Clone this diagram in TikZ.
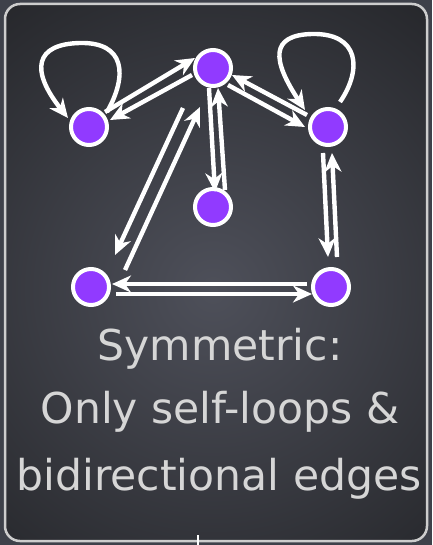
\documentclass[tikz,border=0pt]{standalone}
\usepackage{fontspec}
\setmainfont{DejaVu Sans}
\usetikzlibrary{arrows.meta,calc}
\definecolor{bgout}{RGB}{62,65,74}
\definecolor{panelin}{RGB}{78,80,90}
\definecolor{panelout}{RGB}{30,31,34}
\definecolor{nodepurple}{RGB}{145,58,255}
\definecolor{txt}{RGB}{214,214,214}
\definecolor{rim}{RGB}{205,205,205}
\begin{document}
\begin{tikzpicture}[x=1pt,y=-1pt,
  vert/.style={circle, draw=white, line width=4pt, fill=nodepurple, minimum size=36pt, inner sep=0pt},
  arr/.style={draw=white, line width=4.4pt, -{Stealth[length=19pt,width=17pt,inset=6pt]}},
  caption/.style={text=txt, font=\fontsize{42.5}{44}\selectfont, inner sep=0pt, anchor=base}
]
\useasboundingbox (0,0) rectangle (432,545);
\fill[bgout] (0,0) rectangle (432,545);
\begin{scope}
\clip[rounded corners=15pt] (5,4) rectangle (427,541);
\shade[inner color=panelin, outer color=panelout] (213,290) circle (430pt);
\end{scope}
\draw[rim, line width=2.5pt, rounded corners=15pt] (5,4) rectangle (427,541);
\coordinate (tickTop) at (198,535);
\coordinate (tickBot) at (198,545);
\draw[white, line width=2pt] (tickTop) -- (tickBot);

\node[vert] (A) at (89,127) {};
\node[vert] (B) at (213,68) {};
\node[vert] (C) at (328,127) {};
\node[vert] (D) at (213,207) {};
\node[vert] (E) at (91,287) {};
\node[vert] (F) at (331,287) {};

% self-loops
\draw[arr] ([shift={(18,-15)}]A.center) .. controls (128,75) and (125,42) .. (80,43)
  .. controls (35,44) and (30,70) .. ([shift={(-21,-9)}]A.center);
\draw[arr] ([shift={(12,-25)}]C.center) .. controls (362,70) and (360,33) .. (312,34)
  .. controls (270,35) and (272,60) .. ([shift={(-23,-17)}]C.center);

% A-B
\draw[arr] ([shift={(16,-15)}]A.center) -- ([shift={(-18,-10)}]B.center);
\draw[arr] ([shift={(-21,7)}]B.center) -- ([shift={(21,-7)}]A.center);
% B-C
\draw[arr] ([shift={(-21,-12)}]C.center) -- ([shift={(19,7)}]B.center);
\draw[arr] ([shift={(15,17)}]B.center) -- ([shift={(-23,0)}]C.center);
% B-D
\draw[arr] ([shift={(-4,20)}]B.center) -- ([shift={(2,-15)}]D.center);
\draw[arr] ([shift={(12,-17)}]D.center) -- ([shift={(5,20)}]B.center);
% B-E
\draw[arr] ([shift={(-30,40)}]B.center) -- ([shift={(24,-32)}]E.center);
\draw[arr] ([shift={(34,-17)}]E.center) -- ([shift={(-13,39)}]B.center);
% C-F
\draw[arr] ([shift={(-5,26)}]C.center) -- ([shift={(-3,-30)}]F.center);
\draw[arr] ([shift={(6,-30)}]F.center) -- ([shift={(4,26)}]C.center);
% E-F
\draw[arr] ([shift={(-24,-3)}]F.center) -- ([shift={(21,-3)}]E.center);
\draw[arr] ([shift={(25,7)}]E.center) -- ([shift={(-19,7)}]F.center);

\node[caption] (t1) at (220,360) {Symmetric:};
\node[caption] (t2) at (220,423) {Only self-loops \&};
\node[caption] (t3) at (219,490) {bidirectional edges};
\end{tikzpicture}
\end{document}
